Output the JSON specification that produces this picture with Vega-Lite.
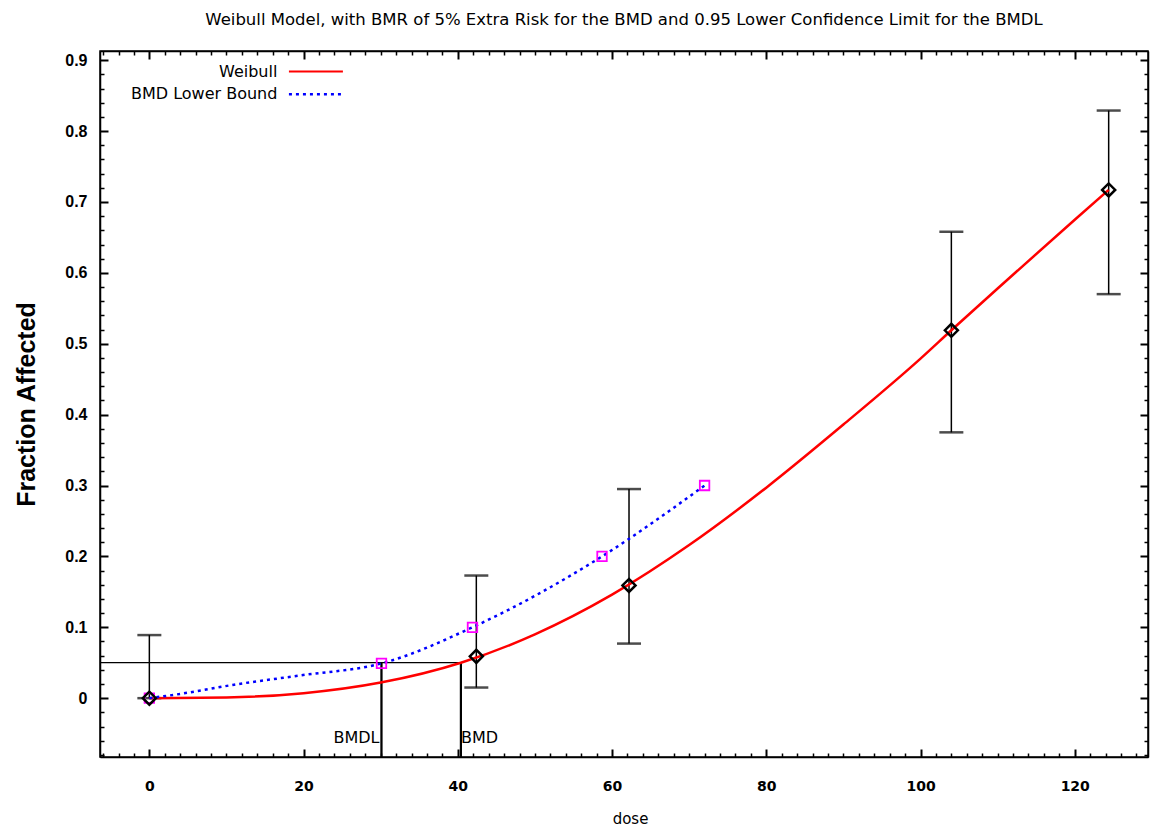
{
  "$schema": "https://vega.github.io/schema/vega-lite/v6.json",
  "width": 1048,
  "height": 706,
  "autosize": {"type": "none"},
  "padding": {"left": 100, "top": 51, "right": 4, "bottom": 71},
  "background": "white",
  "config": {
    "view": {"stroke": "black", "strokeWidth": 1.5},
    "axis": {"grid": false, "domainColor": "black", "domainWidth": 1.5, "tickColor": "black", "tickWidth": 1.5, "labelColor": "black", "titleColor": "black"}
  },
  "title": {
    "text": "Weibull Model, with BMR of 5% Extra Risk for the BMD and 0.95 Lower Confidence Limit for the BMDL",
    "font": "DejaVu Sans", "fontSize": 16.5, "fontWeight": "normal", "color": "black", "anchor": "middle", "offset": 22
  },
  "datasets": {
    "obs": [
      {"dose": 0, "frac": 0, "lo": 0, "hi": 0.089},
      {"dose": 42.4, "frac": 0.059, "lo": 0.015, "hi": 0.173},
      {"dose": 62.2, "frac": 0.159, "lo": 0.077, "hi": 0.295},
      {"dose": 104, "frac": 0.519, "lo": 0.375, "hi": 0.658},
      {"dose": 124.4, "frac": 0.717, "lo": 0.57, "hi": 0.829}
    ],
    "weibull": [
      {"dose": 0, "frac": 0},
      {"dose": 10, "frac": 0.001},
      {"dose": 20, "frac": 0.007},
      {"dose": 30, "frac": 0.022},
      {"dose": 40.4, "frac": 0.05},
      {"dose": 50, "frac": 0.09},
      {"dose": 60, "frac": 0.146},
      {"dose": 70, "frac": 0.216},
      {"dose": 80, "frac": 0.297},
      {"dose": 90, "frac": 0.386},
      {"dose": 100, "frac": 0.479},
      {"dose": 104, "frac": 0.519},
      {"dose": 110, "frac": 0.578},
      {"dose": 120, "frac": 0.675},
      {"dose": 124.4, "frac": 0.717}
    ],
    "bmdl": [
      {"dose": 0, "frac": 0},
      {"dose": 4, "frac": 0.006},
      {"dose": 11, "frac": 0.019},
      {"dose": 19.5, "frac": 0.032},
      {"dose": 30.1, "frac": 0.049},
      {"dose": 41.9, "frac": 0.1},
      {"dose": 58.7, "frac": 0.2},
      {"dose": 72, "frac": 0.3}
    ],
    "bmdlpts": [
      {"dose": 0, "frac": 0},
      {"dose": 30.1, "frac": 0.049},
      {"dose": 41.9, "frac": 0.1},
      {"dose": 58.7, "frac": 0.2},
      {"dose": 72, "frac": 0.3}
    ],
    "refs": [
      {"x1": -6.4, "x2": 40.4, "y1": 0.05, "y2": 0.05},
      {"x1": 30.1, "x2": 30.1, "y1": -0.083, "y2": 0.05},
      {"x1": 40.4, "x2": 40.4, "y1": -0.083, "y2": 0.05}
    ],
    "reflabels": [
      {"dose": 30.1, "frac": -0.056, "label": "BMDL", "side": "right"},
      {"dose": 40.4, "frac": -0.056, "label": "BMD", "side": "left"}
    ],
    "legend": [
      {"x1": 18.1, "x2": 25.1, "y": 0.884, "tx": 16.6, "label": "Weibull", "series": "Weibull"},
      {"x1": 18.1, "x2": 25.1, "y": 0.852, "tx": 16.6, "label": "BMD Lower Bound", "series": "BMDL"}
    ]
  },
  "layer": [
    {
      "data": {"name": "obs"},
      "mark": {"type": "rule", "color": "black", "strokeWidth": 1.5},
      "encoding": {
        "x": {
          "field": "dose", "type": "quantitative",
          "scale": {"domain": [-6.4, 129.5], "nice": false, "zero": false},
          "axis": {
            "orient": "bottom",
            "values": [-6,-4,-2,0,2,4,6,8,10,12,14,16,18,20,22,24,26,28,30,32,34,36,38,40,42,44,46,48,50,52,54,56,58,60,62,64,66,68,70,72,74,76,78,80,82,84,86,88,90,92,94,96,98,100,102,104,106,108,110,112,114,116,118,120,122,124,126,128],
            "format": "d",
            "labelExpr": "datum.value % 20 === 0 ? datum.label : ''",
            "ticks": true,
            "tickSize": {"condition": {"test": "datum.value % 20 === 0", "value": -8}, "value": -4},
            "tickWidth": {"condition": {"test": "datum.value % 20 === 0", "value": 2}, "value": 1.5},
            "labelPadding": 30,
            "labelFont": "DejaVu Sans", "labelFontSize": 14, "labelFontWeight": "bold",
            "labelBound": false, "labelOverlap": false, "labelFlush": false,
            "title": "dose",
            "titleFont": "DejaVu Sans", "titleFontSize": 15, "titleFontWeight": "normal",
            "titleX": 530, "titleY": 61, "titleAlign": "center", "titleBaseline": "middle"
          }
        },
        "y": {
          "field": "lo", "type": "quantitative",
          "scale": {"domain": [-0.083, 0.913], "nice": false, "zero": false},
          "axis": {
            "orient": "left",
            "values": [-0.08,-0.06,-0.04,-0.02,0,0.02,0.04,0.06,0.08,0.1,0.12,0.14,0.16,0.18,0.2,0.22,0.24,0.26,0.28,0.3,0.32,0.34,0.36,0.38,0.4,0.42,0.44,0.46,0.48,0.5,0.52,0.54,0.56,0.58,0.6,0.62,0.64,0.66,0.68,0.7,0.72,0.74,0.76,0.78,0.8,0.82,0.84,0.86,0.88,0.9],
            "labelExpr": "abs(datum.value*10 - round(datum.value*10)) < 0.001 ? format(datum.value, '.1~f') : ''",
            "ticks": true,
            "tickSize": {"condition": {"test": "abs(datum.value*10 - round(datum.value*10)) < 0.001", "value": -8}, "value": -4},
            "tickWidth": {"condition": {"test": "abs(datum.value*10 - round(datum.value*10)) < 0.001", "value": 2}, "value": 1.5},
            "labelPadding": 21,
            "labelFont": "Liberation Sans", "labelFontSize": 16, "labelFontWeight": "bold",
            "labelBound": false, "labelOverlap": false, "labelFlush": false,
            "title": "Fraction Affected",
            "titleFont": "Liberation Sans", "titleFontSize": 25, "titleFontWeight": "bold",
            "titleX": -74, "titleY": 353, "titleAngle": -90, "titleAlign": "center", "titleBaseline": "middle"
          }
        },
        "y2": {"field": "hi"}
      }
    },
    {
      "data": {"name": "obs"},
      "mark": {"type": "point", "opacity": 0},
      "encoding": {
        "x": {
          "field": "dose", "type": "quantitative",
          "axis": {
            "orient": "top",
            "values": [-6,-4,-2,0,2,4,6,8,10,12,14,16,18,20,22,24,26,28,30,32,34,36,38,40,42,44,46,48,50,52,54,56,58,60,62,64,66,68,70,72,74,76,78,80,82,84,86,88,90,92,94,96,98,100,102,104,106,108,110,112,114,116,118,120,122,124,126,128],
            "labels": false, "title": null, "ticks": true,
            "tickSize": {"condition": {"test": "datum.value % 20 === 0", "value": -8}, "value": -4},
            "tickWidth": {"condition": {"test": "datum.value % 20 === 0", "value": 2}, "value": 1.5}
          }
        },
        "y": {
          "field": "frac", "type": "quantitative",
          "axis": {
            "orient": "right",
            "values": [-0.08,-0.06,-0.04,-0.02,0,0.02,0.04,0.06,0.08,0.1,0.12,0.14,0.16,0.18,0.2,0.22,0.24,0.26,0.28,0.3,0.32,0.34,0.36,0.38,0.4,0.42,0.44,0.46,0.48,0.5,0.52,0.54,0.56,0.58,0.6,0.62,0.64,0.66,0.68,0.7,0.72,0.74,0.76,0.78,0.8,0.82,0.84,0.86,0.88,0.9],
            "labels": false, "title": null, "ticks": true,
            "tickSize": {"condition": {"test": "abs(datum.value*10 - round(datum.value*10)) < 0.001", "value": -8}, "value": -4},
            "tickWidth": {"condition": {"test": "abs(datum.value*10 - round(datum.value*10)) < 0.001", "value": 2}, "value": 1.5}
          }
        }
      }
    },
    {
      "data": {"name": "obs"},
      "mark": {"type": "tick", "orient": "horizontal", "color": "black", "size": 24, "thickness": 2.5},
      "encoding": {
        "x": {"field": "dose", "type": "quantitative", "axis": null},
        "y": {"field": "hi", "type": "quantitative", "axis": null}
      }
    },
    {
      "data": {"name": "obs"},
      "mark": {"type": "tick", "orient": "horizontal", "color": "black", "size": 24, "thickness": 2.5},
      "encoding": {
        "x": {"field": "dose", "type": "quantitative", "axis": null},
        "y": {"field": "lo", "type": "quantitative", "axis": null}
      }
    },
    {
      "data": {"name": "refs"},
      "mark": {"type": "rule", "color": "black", "strokeWidth": 1.2},
      "encoding": {
        "x": {"field": "x1", "type": "quantitative", "axis": null},
        "x2": {"field": "x2"},
        "y": {"field": "y1", "type": "quantitative", "axis": null},
        "y2": {"field": "y2"}
      }
    },
    {
      "data": {"name": "refs"},
      "transform": [{"filter": "datum.x1 === datum.x2"}],
      "mark": {"type": "rule", "color": "black", "strokeWidth": 2.2},
      "encoding": {
        "x": {"field": "x1", "type": "quantitative", "axis": null},
        "y": {"field": "y1", "type": "quantitative", "axis": null},
        "y2": {"field": "y2"}
      }
    },
    {
      "data": {"name": "weibull"},
      "mark": {"type": "line", "color": "#ff0000", "strokeWidth": 2.5, "interpolate": "monotone"},
      "encoding": {
        "x": {"field": "dose", "type": "quantitative", "axis": null},
        "y": {"field": "frac", "type": "quantitative", "axis": null}
      }
    },
    {
      "data": {"name": "bmdl"},
      "mark": {"type": "line", "color": "#0000ff", "strokeWidth": 2.5, "strokeDash": [3, 4], "interpolate": "monotone"},
      "encoding": {
        "x": {"field": "dose", "type": "quantitative", "axis": null},
        "y": {"field": "frac", "type": "quantitative", "axis": null}
      }
    },
    {
      "data": {"name": "bmdlpts"},
      "mark": {"type": "point", "shape": "square", "filled": false, "color": "#ff00ff", "strokeWidth": 1.8, "size": 90, "opacity": 1},
      "encoding": {
        "x": {"field": "dose", "type": "quantitative", "axis": null},
        "y": {"field": "frac", "type": "quantitative", "axis": null}
      }
    },
    {
      "data": {"name": "obs"},
      "mark": {"type": "point", "shape": "diamond", "filled": false, "color": "black", "strokeWidth": 2.5, "size": 170, "opacity": 1},
      "encoding": {
        "x": {"field": "dose", "type": "quantitative", "axis": null},
        "y": {"field": "frac", "type": "quantitative", "axis": null}
      }
    },
    {
      "data": {"name": "reflabels"},
      "transform": [{"filter": "datum.side === 'right'"}],
      "mark": {"type": "text", "align": "right", "baseline": "middle", "dx": -2, "font": "DejaVu Sans", "fontSize": 16, "color": "black"},
      "encoding": {
        "x": {"field": "dose", "type": "quantitative", "axis": null},
        "y": {"field": "frac", "type": "quantitative", "axis": null},
        "text": {"field": "label"}
      }
    },
    {
      "data": {"name": "reflabels"},
      "transform": [{"filter": "datum.side === 'left'"}],
      "mark": {"type": "text", "align": "left", "baseline": "middle", "dx": 0, "font": "DejaVu Sans", "fontSize": 16, "color": "black"},
      "encoding": {
        "x": {"field": "dose", "type": "quantitative", "axis": null},
        "y": {"field": "frac", "type": "quantitative", "axis": null},
        "text": {"field": "label"}
      }
    },
    {
      "data": {"name": "legend"},
      "transform": [{"filter": "datum.series === 'Weibull'"}],
      "mark": {"type": "rule", "color": "#ff0000", "strokeWidth": 2},
      "encoding": {
        "x": {"field": "x1", "type": "quantitative", "axis": null},
        "x2": {"field": "x2"},
        "y": {"field": "y", "type": "quantitative", "axis": null}
      }
    },
    {
      "data": {"name": "legend"},
      "transform": [{"filter": "datum.series === 'BMDL'"}],
      "mark": {"type": "rule", "color": "#0000ff", "strokeWidth": 2.5, "strokeDash": [3, 4]},
      "encoding": {
        "x": {"field": "x1", "type": "quantitative", "axis": null},
        "x2": {"field": "x2"},
        "y": {"field": "y", "type": "quantitative", "axis": null}
      }
    },
    {
      "data": {"name": "legend"},
      "mark": {"type": "text", "align": "right", "baseline": "middle", "font": "DejaVu Sans", "fontSize": 16, "color": "black"},
      "encoding": {
        "x": {"field": "tx", "type": "quantitative", "axis": null},
        "y": {"field": "y", "type": "quantitative", "axis": null},
        "text": {"field": "label"}
      }
    }
  ],
  "resolve": {"axis": {"x": "independent", "y": "independent"}}
}
